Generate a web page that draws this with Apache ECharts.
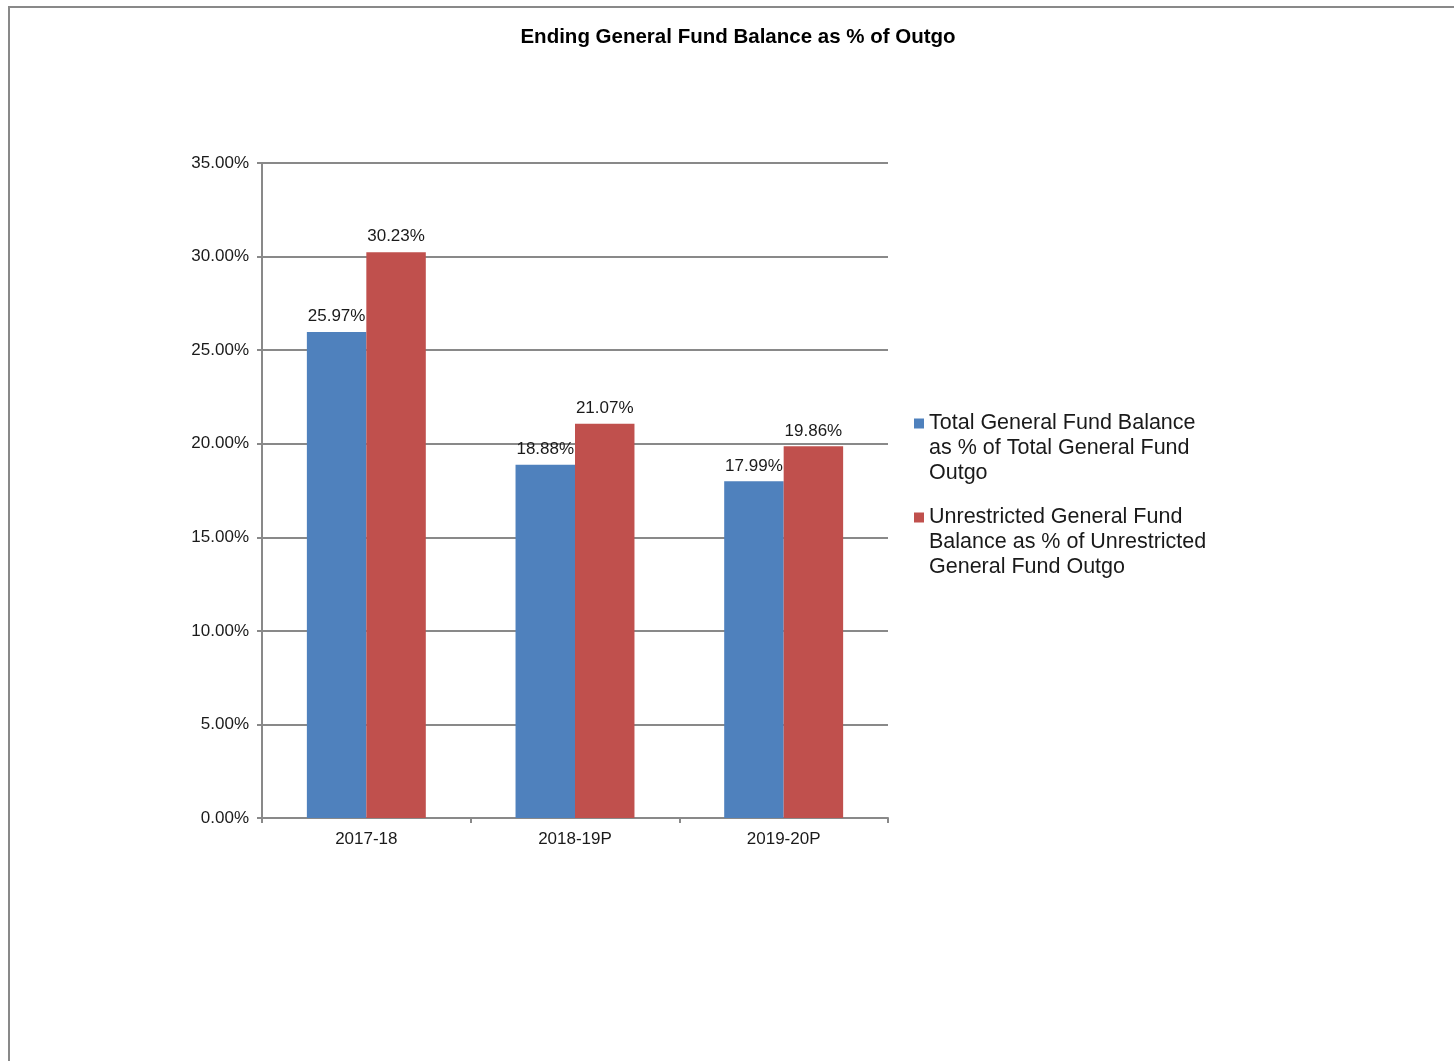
<!DOCTYPE html>
<html>
<head>
<meta charset="utf-8">
<style>
  html, body { margin: 0; padding: 0; background: #fff; }
  #chart { width: 1454px; height: 1061px; }
</style>
<script src="https://cdn.jsdelivr.net/npm/echarts@6/dist/echarts.min.js"></script>
</head>
<body>
<div id="chart"></div>
<script>
// Fiscal years on the category axis
const categories = ['2017-18', '2018-19P', '2019-20P'];

// Ending balance as a percentage of outgo
const totalBalancePct = [25.97, 18.88, 17.99];
const unrestrictedBalancePct = [30.23, 21.07, 19.86];

// Series names (wrapped the way the legend shows them)
const seriesNames = [
  'Total General Fund Balance\nas % of Total General Fund\nOutgo',
  'Unrestricted General Fund\nBalance as % of Unrestricted\nGeneral Fund Outgo'
];

// Value axis ticks (percent)
const yMin = 0, yMax = 35, yStep = 5;

const FONT = '"Liberation Sans", Arial, sans-serif';
const GRAY = '#898989';
const TEXT = '#1a1a1a';

const chart = echarts.init(document.getElementById('chart'), null, { renderer: 'canvas' });

// Legend text lifted so the marker sits on the first line of each wrapped name
const legendText = (name) => '\n\n' + name;

const legendBase = {
  orient: 'vertical',
  left: 914,
  padding: 0,
  itemWidth: 10,
  itemHeight: 10,
  icon: 'rect',
  selectedMode: true,
  formatter: legendText,
  textStyle: { fontFamily: FONT, fontSize: 21.5, lineHeight: 25, color: TEXT }
};

const valueLabel = (p) => p.value.toFixed(2) + '%';

chart.setOption({
  animation: false,
  backgroundColor: '#ffffff',
  title: {
    text: 'Ending General Fund Balance as % of Outgo',
    left: 738,
    textAlign: 'center',
    top: 27,
    padding: 0,
    textStyle: { fontFamily: FONT, fontSize: 20.5, fontWeight: 'bold', color: '#000' }
  },
  graphic: [{
    type: 'rect',
    silent: true,
    shape: { x: 9, y: 7, width: 1500, height: 1100 },
    style: { fill: 'none', stroke: GRAY, lineWidth: 2 }
  }],
  legend: [
    Object.assign({}, legendBase, { top: 361, data: [seriesNames[0]] }),
    Object.assign({}, legendBase, { top: 455, data: [seriesNames[1]] })
  ],
  grid: { left: 262, top: 163, width: 626, height: 655, containLabel: false },
  xAxis: {
    type: 'category',
    data: categories,
    axisLine: { lineStyle: { color: GRAY, width: 2 } },
    axisTick: { show: true, length: 5, lineStyle: { color: GRAY, width: 2 } },
    axisLabel: { fontFamily: FONT, fontSize: 17, color: TEXT, margin: 13 }
  },
  yAxis: {
    type: 'value',
    min: yMin,
    max: yMax,
    interval: yStep,
    axisLine: { show: true, lineStyle: { color: GRAY, width: 2 } },
    axisTick: { show: true, length: 5, lineStyle: { color: GRAY, width: 2 } },
    splitLine: { show: true, lineStyle: { color: GRAY, width: 2 } },
    axisLabel: {
      fontFamily: FONT, fontSize: 17, color: TEXT, margin: 13,
      formatter: (v) => v.toFixed(2) + '%'
    }
  },
  series: [
    {
      name: seriesNames[0],
      type: 'bar',
      data: totalBalancePct,
      barGap: '0%',
      barCategoryGap: '43%',
      itemStyle: { color: '#4F81BD' },
      label: {
        show: true, position: 'top', distance: 7,
        fontFamily: FONT, fontSize: 17, color: TEXT,
        formatter: valueLabel
      }
    },
    {
      name: seriesNames[1],
      type: 'bar',
      data: unrestrictedBalancePct,
      barGap: '0%',
      barCategoryGap: '43%',
      itemStyle: { color: '#C0504D' },
      label: {
        show: true, position: 'top', distance: 7,
        fontFamily: FONT, fontSize: 17, color: TEXT,
        formatter: valueLabel
      }
    }
  ]
});
</script>
</body>
</html>
